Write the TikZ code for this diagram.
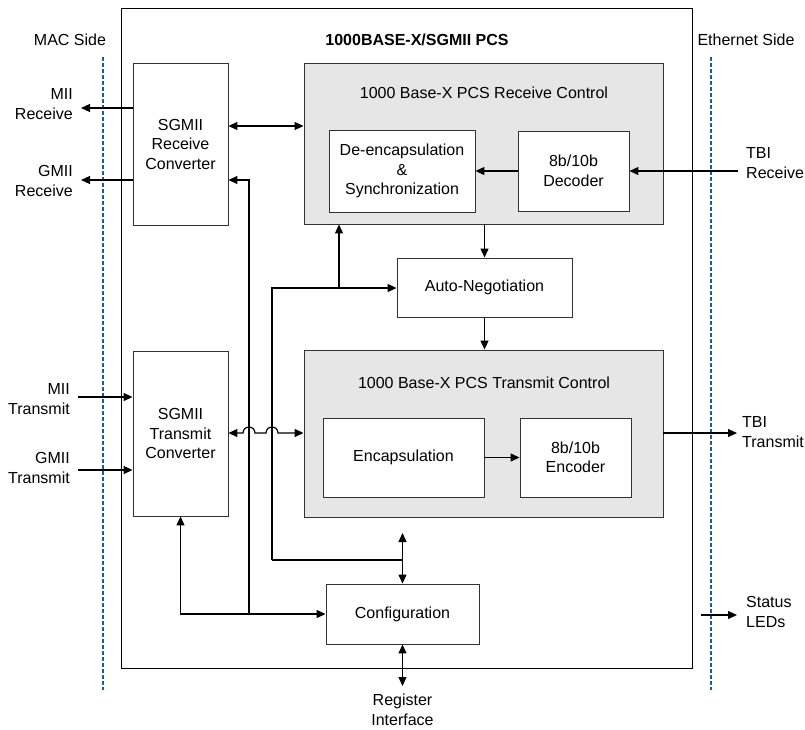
\documentclass[tikz,border=0pt]{standalone}
\usepackage{fontspec}
\setmainfont{Liberation Sans}
\usetikzlibrary{arrows.meta}
\definecolor{sideblue}{HTML}{1F5C9E}
\definecolor{grpgray}{HTML}{E6E6E6}
\begin{document}
\begin{tikzpicture}[x=1pt,y=-1pt,
  font=\fontsize{16}{19.5}\selectfont,
  box/.style={draw=black!80, line width=0.9pt, fill=white, inner sep=0pt, align=center},
  grp/.style={draw=black!80, line width=0.9pt, fill=grpgray, inner sep=0pt},
  conn/.style={line width=1.2pt, -{Triangle[length=9pt,width=8pt]}},
  bconn/.style={line width=1.2pt, {Triangle[length=9pt,width=8pt]}-{Triangle[length=9pt,width=8pt]}},
  wire/.style={line width=1.2pt},
  lbl/.style={align=center, inner sep=0pt},
  sidedash/.style={draw=sideblue, line width=2pt, dash pattern=on 4pt off 2pt},
]
\useasboundingbox (0,0) rectangle (805,729);

% outer PCS block
\node[draw=black, line width=0.9pt, minimum width=571pt, minimum height=660pt, inner sep=0pt] (pcs) at (406.5,338) {};
\node[lbl, font=\fontsize{16}{19.5}\selectfont\bfseries] (title) at (417,40) {1000BASE-X/SGMII PCS};
\node[lbl] (macside) at (70,40) {MAC Side};
\node[lbl] (ethside) at (746,40) {Ethernet Side};

% side dashed lines
\draw[sidedash] (103,57) -- (103,690);
\draw[sidedash] (711,57) -- (711,690);

% converters
\node[box, minimum width=95pt, minimum height=162pt] (rxconv) at (180.5,144) {SGMII\\Receive\\Converter};
\node[box, minimum width=95pt, minimum height=165pt] (txconv) at (180.5,433.5) {SGMII\\Transmit\\Converter};

% receive control group
\node[grp, minimum width=359pt, minimum height=161pt] (rxctl) at (483.5,143.5) {};
\node[lbl] (rxtitle) at (484,93) {1000 Base-X PCS Receive Control};
\node[box, minimum width=146pt, minimum height=82pt] (deenc) at (402,171) {De-encapsulation\\\&\\Synchronization};
\node[box, minimum width=111pt, minimum height=80pt] (dec) at (573.5,171) {8b/10b\\Decoder};

% auto-negotiation
\node[box, minimum width=175pt, minimum height=59pt] (autoneg) at (484.5,287.5) {Auto-Negotiation};

% transmit control group
\node[grp, minimum width=359pt, minimum height=167pt] (txctl) at (483.5,433.5) {};
\node[lbl] (txtitle) at (484,383) {1000 Base-X PCS Transmit Control};
\node[box, minimum width=161pt, minimum height=79pt] (encap) at (403.5,457.5) {Encapsulation};
\node[box, minimum width=111pt, minimum height=79pt] (enc) at (575.5,457.5) {8b/10b\\Encoder};

% configuration
\node[box, minimum width=153pt, minimum height=60pt] (config) at (402.5,614) {Configuration};

% external labels
\node[lbl, align=right, anchor=east] (miirx) at (73,104) {MII\\Receive};
\node[lbl, align=right, anchor=east] (gmiirx) at (73,181) {GMII\\Receive};
\node[lbl, align=right, anchor=east] (miitx) at (70,399) {MII\\Transmit};
\node[lbl, align=right, anchor=east] (gmiitx) at (70,468) {GMII\\Transmit};
\node[lbl, align=left, anchor=west] (tbirx) at (746,163) {TBI\\Receive};
\node[lbl, align=left, anchor=west] (tbitx) at (742,432) {TBI\\Transmit};
\node[lbl, align=left, anchor=west] (leds) at (746,612) {Status\\LEDs};
\node[lbl] (regif) at (402.5,710) {Register\\Interface};

% free ends / junctions
\coordinate (miirxend) at (81,108);
\coordinate (gmiirxend) at (81,180);
\coordinate (miitxst) at (78,397);
\coordinate (gmiitxst) at (78,470);
\coordinate (tbirxst) at (738,171);
\coordinate (tbitxend) at (737,433);
\coordinate (ledsst) at (701,615);
\coordinate (ledsend) at (737,615);
\coordinate (regend) at (402.5,686);
\coordinate (j1) at (249,615);
\coordinate (j1top) at (249,180);
\coordinate (j2) at (272,560);
\coordinate (j2top) at (272,288);
\coordinate (j3) at (339,288);
\coordinate (j4) at (402.5,560);
\coordinate (cfgup) at (402.5,533);

% MAC side connections
\draw[conn] (rxconv.west |- miirxend) -- (miirxend);
\draw[conn] (rxconv.west |- gmiirxend) -- (gmiirxend);
\draw[conn] (miitxst) -- (txconv.west |- miitxst);
\draw[conn] (gmiitxst) -- (txconv.west |- gmiitxst);

% converter <-> control
\draw[bconn] (rxconv.east |- 0,126) -- (rxctl.west |- 0,126);
\draw[bconn] (txconv.east |- 0,433) -- (243,433)
  arc[start angle=180, end angle=0, radius=6pt] -- (266,433)
  arc[start angle=180, end angle=0, radius=6pt] -- (txctl.west |- 0,433);

% receive path
\draw[conn] (tbirxst) -- (dec.east);
\draw[conn] (dec.west) -- (deenc.east);
\draw[conn] (autoneg.north |- rxctl.south) -- (autoneg.north);
\draw[conn] (autoneg.south) -- (autoneg.south |- txctl.north);

% transmit path
\draw[conn] (encap.east) -- (enc.west);
\draw[conn] (txctl.east |- tbitxend) -- (tbitxend);

% configuration wiring
\draw[bconn] (txconv.south) -- (txconv.south |- config.west) -- (config.west);
\draw[conn] (j1) -- (j1top) -- (rxconv.east |- j1top);
\draw[conn] (j2) -- (j2top) -- (autoneg.west |- j2top);
\draw[conn] (j3) -- (j3 |- rxctl.south);
\draw[wire] (j2) -- (j4);
\draw[bconn] (cfgup) -- (config.north);
\draw[bconn] (config.south) -- (regend);
\draw[conn] (ledsst) -- (ledsend);
\end{tikzpicture}
\end{document}
